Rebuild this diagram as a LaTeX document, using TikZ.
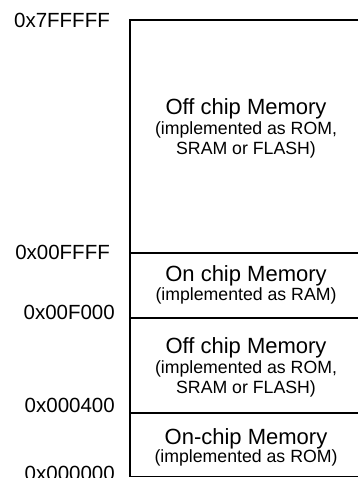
\documentclass[tikz,border=0pt]{standalone}
\usepackage{fontspec}
\setmainfont{Liberation Sans}
\usetikzlibrary{positioning}
\tikzset{
  addr/.style={anchor=base east, inner sep=0pt, font=\fontsize{20.5}{24}\selectfont},
  title/.style={anchor=base, inner sep=0pt, font=\fontsize{22}{26}\selectfont},
  note/.style={anchor=base, inner sep=0pt, font=\fontsize{17.7}{20}\selectfont},
  wall/.style={line width=1.5pt}
}

\begin{document}
\begin{tikzpicture}[x=1pt, y=1pt]
                      \useasboundingbox (0,0) rectangle (358,478);
                      \draw[wall] (358,458) -- (130,458) -- (130,1.3) -- (358,1.3);
                      \draw[wall] (130,225) -- (358,225);
                      \draw[wall] (130,160) -- (358,160);
                      \draw[wall] (130,65) -- (358,65);
                      \node[addr] (a7fffff) at (110,450.7) {0x7FFFFF};
                      \node[addr] (a00ffff) at (110,218) {0x00FFFF};
                      \node[addr] (a00f000) at (115,158.5) {0x00F000};
                      \node[addr] (a000400) at (115,65) {0x000400};
                      \node[addr] (a000000) at (115,-2) {0x000000};
                      \node[title] (offtop) at (246,363) {Off chip Memory};
                      \node[note] (offtopa) at (246,343.5) {(implemented as ROM,};
                      \node[note] (offtopb) at (246,323) {SRAM or FLASH)};
                      \node[title] (onram) at (246,196) {On chip Memory};
                      \node[note] (onrama) at (246,177) {(implemented as RAM)};
                      \node[title] (offlow) at (246,124.7) {Off chip Memory};
                      \node[note] (offlowa) at (246,104.5) {(implemented as ROM,};
                      \node[note] (offlowb) at (246,84) {SRAM or FLASH)};
                      \node[title] (onrom) at (246,33.7) {On-chip Memory};
                      \node[note] (onroma) at (246,15.3) {(implemented as ROM)};
                  \end{tikzpicture}
\end{document}
